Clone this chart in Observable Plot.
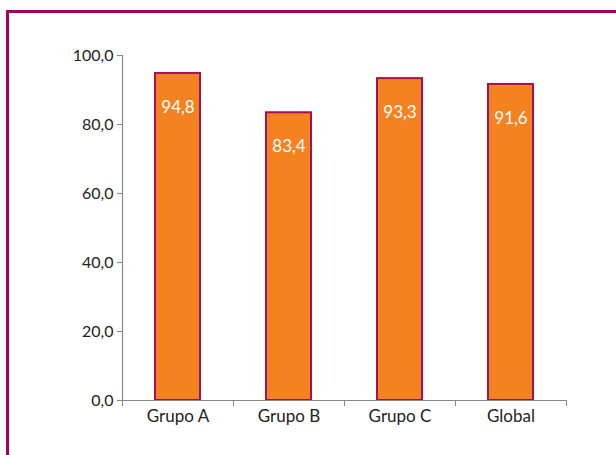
<!DOCTYPE html>
<html><head><meta charset="utf-8">
<script src="https://cdn.jsdelivr.net/npm/d3@7"></script>
<script src="https://cdn.jsdelivr.net/npm/@observablehq/plot@0.6"></script>
<style>
body{margin:0;background:#fff;font-family:Lato,"Open Sans",sans-serif;}
#wrap{position:relative;width:616px;height:455px;overflow:hidden;}
#frame{position:absolute;left:6px;top:10px;width:700px;height:600px;border:3px solid #A6005B;box-sizing:border-box;}
#chart{position:absolute;left:0;top:0;}
</style></head>
<body><div id="wrap"><div id="frame"></div><div id="chart"></div></div>
<script>
const categories = ["Grupo A", "Grupo B", "Grupo C", "Global"];
const values = [94.8, 83.4, 93.3, 91.6];
const yTicks = [0, 20, 40, 60, 80, 100];

const data = categories.map((c, i) => ({cat: c, i, value: values[i]}));
const fmt = v => d3.format(".1f")(v).replace(".", ",");

const chart = Plot.plot({
  width: 616, height: 455,
  marginLeft: 122, marginRight: 50, marginTop: 55, marginBottom: 55,
  style: {fontFamily: "Lato, 'Open Sans', sans-serif", fontSize: "16px", color: "#222", background: "transparent"},
  x: {type: "linear", domain: [0, categories.length], axis: null},
  y: {domain: [0, 100], axis: null},
  marks: [
    Plot.axisY({ticks: yTicks, tickFormat: fmt, tickSize: 5, tickPadding: 4, stroke: "#888", fontSize: 16, fill: "#222", label: null}),
    Plot.ruleX([0], {stroke: "#888", strokeWidth: 1.2}),
    Plot.rectY(data, {x1: d => d.i, x2: d => d.i + 1, y: "value", fill: "#F58220", stroke: "#A3105E", strokeWidth: 2, insetLeft: 33, insetRight: 33}),
    Plot.ruleY([0], {stroke: "#888", strokeWidth: 1.2}),
    Plot.axisX({ticks: d3.range(categories.length + 1), tickFormat: () => "", tickSize: 6, stroke: "#888", label: null}),
    Plot.axisX({ticks: categories.map((c, i) => i + 0.5), tickFormat: t => categories[Math.floor(t)], tickSize: 0, tickPadding: 9, fontSize: 17, fill: "#222", label: null}),
    Plot.text(data, {x: d => d.i + 0.5, y: "value", text: d => fmt(d.value), fill: "white", fontSize: 17, dy: 34})
  ]
});
document.getElementById("chart").appendChild(chart);
</script></body></html>
